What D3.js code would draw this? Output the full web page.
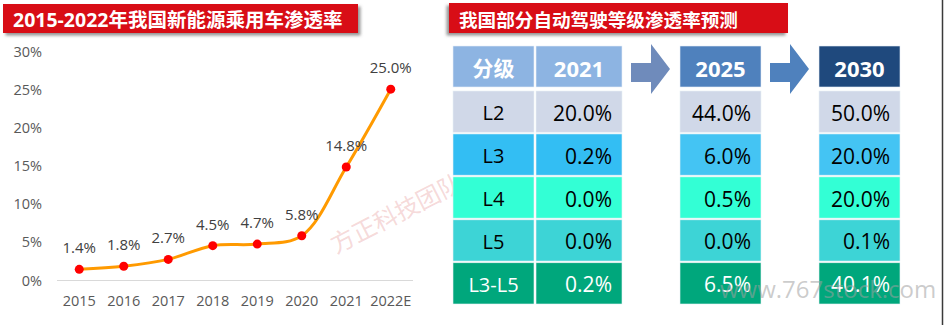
<!DOCTYPE html>
<html>
<head>
<meta charset="utf-8">
<script src="https://cdn.jsdelivr.net/npm/d3@7"></script>
<style>
  html, body { margin: 0; padding: 0; background: #fff; }
  svg { display: block; }
  text { font-family: "Open Sans", "Noto Sans CJK SC", sans-serif; }
</style>
</head>
<body>
<svg id="chart" width="945" height="325"></svg>
<script>
// NEV passenger-car penetration, 2015-2022E (%)
const years = ["2015", "2016", "2017", "2018", "2019", "2020", "2021", "2022E"];
const penetration = [1.4, 1.8, 2.7, 4.5, 4.7, 5.8, 14.8, 25.0];
const yTicks = [0, 5, 10, 15, 20, 25, 30];

// Autonomous-driving level penetration forecast (%)
const levels = ["L2", "L3", "L4", "L5", "L3-L5"];
const forecastYears = ["2021", "2025", "2030"];
const rate2021 = [20.0, 0.2, 0.0, 0.0, 0.2];
const rate2025 = [44.0, 6.0, 0.5, 0.0, 6.5];
const rate2030 = [50.0, 20.0, 20.0, 0.1, 40.1];

const svg = d3.select("#chart");

// drop shadows for the title banners
const defs = svg.append("defs");
defs.append("filter").attr("id", "shadowR").attr("x", "-10%").attr("y", "-30%").attr("width", "120%").attr("height", "160%")
  .append("feDropShadow").attr("dx", 2.5).attr("dy", 2.5).attr("stdDeviation", 1.5).attr("flood-color", "#7a7a7a").attr("flood-opacity", 0.8);
defs.append("filter").attr("id", "shadowL").attr("x", "-10%").attr("y", "-30%").attr("width", "120%").attr("height", "160%")
  .append("feDropShadow").attr("dx", -2.5).attr("dy", 2.5).attr("stdDeviation", 1.5).attr("flood-color", "#7a7a7a").attr("flood-opacity", 0.8);

// right page edge
svg.append("line").attr("x1", 942.5).attr("x2", 942.5).attr("y1", 0).attr("y2", 325)
  .attr("stroke", "#3a3a3a").attr("stroke-width", 1.5);

// ---------- title banners ----------
function banner(x, y, w, h, label, filterId, size) {
  svg.append("rect").attr("x", x).attr("y", y).attr("width", w).attr("height", h)
    .attr("fill", "#d80c18").attr("filter", `url(#${filterId})`);
  svg.append("text").attr("x", x + 10).attr("y", y + h / 2 + 1)
    .attr("dominant-baseline", "central")
    .attr("fill", "#fff").attr("font-weight", "bold").attr("font-size", size)
    .text(label);
}
banner(3, 4, 355, 29, "2015-2022年我国新能源乘用车渗透率", "shadowR", 19.5);
banner(449, 3, 339, 30, "我国部分自动驾驶等级渗透率预测", "shadowL", 18.6);

// ---------- line chart ----------
const x = d3.scaleBand().domain(years).range([57, 413]);
const y = d3.scaleLinear().domain([0, 30]).range([280, 51]);

const g = svg.append("g");

// y tick labels
g.selectAll(".ytick").data(yTicks).join("text")
  .attr("x", 42).attr("y", d => y(d))
  .attr("text-anchor", "end").attr("dominant-baseline", "central")
  .attr("font-size", 14.5).attr("fill", "#595959")
  .text(d => d + "%");

// baseline
g.append("line").attr("x1", 57).attr("x2", 413).attr("y1", y(0) + 0.5).attr("y2", y(0) + 0.5)
  .attr("stroke", "#d9d9d9").attr("stroke-width", 1);

// x labels
g.selectAll(".xtick").data(years).join("text")
  .attr("x", d => x(d) + x.bandwidth() / 2).attr("y", 300)
  .attr("text-anchor", "middle").attr("dominant-baseline", "central")
  .attr("font-size", 14.5).attr("fill", "#595959")
  .text(d => d);

const pts = years.map((yr, i) => ({ yr, v: penetration[i] }));

const line = d3.line()
  .x(d => x(d.yr) + x.bandwidth() / 2)
  .y(d => y(d.v))
  .curve(d3.curveCatmullRom.alpha(0.5));

g.append("path").datum(pts).attr("d", line)
  .attr("fill", "none").attr("stroke", "#ff9a00").attr("stroke-width", 3);

g.selectAll(".dot").data(pts).join("circle")
  .attr("cx", d => x(d.yr) + x.bandwidth() / 2).attr("cy", d => y(d.v))
  .attr("r", 4.5).attr("fill", "#ff0000");

g.selectAll(".lbl").data(pts).join("text")
  .attr("x", d => x(d.yr) + x.bandwidth() / 2).attr("y", d => y(d.v) - 22)
  .attr("text-anchor", "middle").attr("dominant-baseline", "central")
  .attr("font-size", 15).attr("fill", "#404040")
  .text(d => d.v.toFixed(1) + "%");

// team watermark
svg.append("text")
  .attr("transform", "translate(336,254) rotate(-27)")
  .attr("font-size", 24).attr("fill", "#e8a0a0").attr("fill-opacity", 0.4)
  .attr("font-family", "Noto Sans CJK SC")
  .text("方正科技团队");

// ---------- forecast table ----------
const rowY = d3.scaleBand().domain(levels).range([91, 304]).paddingInner(0.04);
const headerTop = 46, headerH = 41;

const cols = [
  { key: "label", x0: 453, x1: 534 },
  { key: "2021", x0: 536, x1: 622, values: rate2021 },
  { key: "2025", x0: 680, x1: 761, values: rate2025 },
  { key: "2030", x0: 819, x1: 900, values: rate2030 }
];

const headerFill = { label: "#8db4e2", "2021": "#8db4e2", "2025": "#4f81bd", "2030": "#1f497d" };
const headerText = { label: "分级", "2021": forecastYears[0], "2025": forecastYears[1], "2030": forecastYears[2] };
const rowFill = {
  "L2": ["#d0d8e8", "#d0d8e8", "#d0d8e8", "#d0d8e8"],
  "L3": ["#33bef3", "#33bef3", "#44c4f3", "#44c4f3"],
  "L4": ["#33ffd5", "#33ffd5", "#33ffd5", "#33ffd5"],
  "L5": ["#3dd4d6", "#3dd4d6", "#3dd4d6", "#3dd4d6"],
  "L3-L5": ["#00a77c", "#00a77c", "#00a77c", "#00a77c"]
};

const t = svg.append("g");

cols.forEach((c, ci) => {
  t.append("rect").attr("x", c.x0).attr("y", headerTop).attr("width", c.x1 - c.x0).attr("height", headerH)
    .attr("fill", headerFill[c.key]).attr("stroke", "#e6eef7").attr("stroke-width", 0.6);
  t.append("text").attr("x", (c.x0 + c.x1) / 2).attr("y", headerTop + headerH / 2 + 1)
    .attr("text-anchor", "middle").attr("dominant-baseline", "central")
    .attr("font-size", ci === 0 ? 21 : 22).attr("font-weight", "bold").attr("fill", "#fff")
    .text(headerText[c.key]);

  levels.forEach((lv, ri) => {
    const top = rowY(lv);
    const h = rowY.bandwidth();
    const dark = lv === "L3-L5";
    t.append("rect").attr("x", c.x0).attr("y", top).attr("width", c.x1 - c.x0).attr("height", h)
      .attr("fill", rowFill[lv][ci]).attr("stroke", "#e6f0f4").attr("stroke-width", 0.6);
    const txt = t.append("text").attr("y", top + h / 2 + 1)
      .attr("dominant-baseline", "central")
      .attr("fill", dark ? "#fff" : "#000");
    if (c.key === "label") {
      txt.attr("x", (c.x0 + c.x1) / 2).attr("text-anchor", "middle").attr("font-size", 20).text(lv);
    } else {
      txt.attr("x", c.x1 - 10).attr("text-anchor", "end").attr("font-size", 21).text(c.values[ri].toFixed(1) + "%");
    }
  });
});

// arrows between the forecast years
function arrow(x0, fill) {
  const p = d3.path();
  p.moveTo(x0, 63);
  p.lineTo(x0 + 20, 63);
  p.lineTo(x0 + 20, 44);
  p.lineTo(x0 + 39, 69);
  p.lineTo(x0 + 20, 94);
  p.lineTo(x0 + 20, 82);
  p.lineTo(x0, 82);
  p.closePath();
  svg.append("path").attr("d", p.toString()).attr("fill", fill);
}
arrow(631, "#6f8bbb");
arrow(770, "#4f81bd");

// site watermark
svg.append("text").attr("x", 720).attr("y", 298)
  .attr("font-size", 24).attr("fill", "#a0a0a0").attr("fill-opacity", 0.55)
  .text("www.767stock.com");
</script>
</body>
</html>
